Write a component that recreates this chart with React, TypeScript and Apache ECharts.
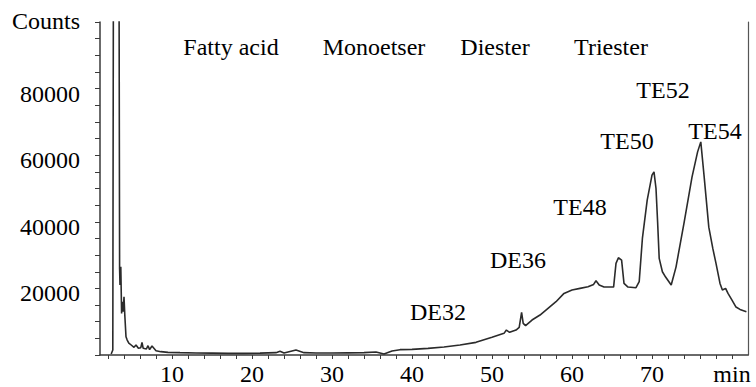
import React, { useEffect, useRef } from "react";
import * as echarts from "echarts";

// Retention time (min) and detector counts
const times = [
  2.4, 2.6, 2.7, 3.35, 3.45, 3.5, 3.6, 3.7, 3.8, 3.9, 4.0, 4.1, 4.25, 4.4, 4.6, 4.9,
  5.25, 5.5, 5.8, 6.1, 6.25, 6.4, 6.8, 7.0, 7.2, 7.5, 8.0, 8.6, 9.5, 11, 13, 15, 17,
  19, 21, 23, 23.5, 24, 25.5, 26.5, 28, 30, 32, 34, 35.5, 36.5, 37.5, 38.5, 40, 42,
  44, 46, 48, 50, 51.5, 51.8, 52.2, 53, 53.4, 53.7, 53.9, 54.2, 55, 56, 57, 58, 59,
  60, 61, 62, 62.7, 63, 63.4, 64, 65.2, 65.5, 65.8, 66.2, 66.5, 67, 68, 68.4, 68.8,
  69.4, 70.0, 70.25, 70.5, 70.7, 70.9, 71.3, 71.7, 72.4, 73.0, 74.0, 75.0, 75.7,
  76.1, 76.5, 77.1, 77.6, 78.0, 78.5, 78.8, 79.2, 79.5, 80.0, 80.5, 81.0, 81.8,
];
const counts = [
  300, 1500, 150000, 150000, 26000, 21000, 26500, 12500, 16000, 13000, 17500, 12000,
  5500, 4500, 3600, 3000, 2300, 3000, 2000, 2200, 3800, 2000, 1800, 2800, 1600,
  2700, 1300, 1000, 800, 700, 600, 550, 500, 500, 550, 700, 1100, 600, 1500, 700,
  600, 600, 650, 700, 900, 300, 1200, 1600, 1700, 2000, 2400, 3000, 3800, 5300,
  6500, 7500, 6800, 7500, 8300, 12800, 9500, 8800, 10500, 12000, 14000, 16000,
  18500, 19500, 20000, 20500, 21200, 22300, 21000, 20400, 20400, 27500, 29200,
  28500, 21500, 20400, 20200, 22000, 35000, 46500, 54000, 55000, 50000, 40000,
  29000, 25000, 23400, 21000, 26400, 39600, 53400, 61000, 64000, 54000, 38400,
  32000, 27500, 21500, 19500, 20000, 18500, 16500, 14400, 13700, 13000,
];

const xTickValues = [
  2, 4, 6, 8, 10, 12, 14, 16, 18, 20, 22, 24, 26, 28, 30, 32, 34, 36, 38, 40, 42,
  44, 46, 48, 50, 52, 54, 56, 58, 60, 62, 64, 66, 68, 70, 72, 74, 76, 78, 80,
];
const xLabelValues = [10, 20, 30, 40, 50, 60, 70, 80];
const xUnit = "min";
const yName = "Counts";
const regionLabels = ["Fatty acid", "Monoetser", "Diester", "Triester"];
const peakLabels = ["TE52", "TE50", "TE54", "TE48", "DE36", "DE32"];

const FONT = "Liberation Serif";

export default function App() {
  const ref = useRef<HTMLDivElement>(null);

  useEffect(() => {
    if (!ref.current) return;
    document.body.style.margin = "0";
    const chart = echarts.init(ref.current, null, { renderer: "svg" });
    const data = times.map((t, i) => [t, counts[i]]);

    const regionPos = [
      [231, 47],
      [374, 47],
      [495, 47],
      [611, 47],
    ];
    const peakPos = [
      [663, 90],
      [627, 141],
      [715, 131],
      [580, 207],
      [518, 260],
      [438, 312],
    ];
    const textStyle = { fontSize: 24, fontFamily: FONT, fill: "#000" };
    const graphics: any[] = [];
    regionLabels.forEach((t, i) =>
      graphics.push({
        type: "text",
        x: regionPos[i][0],
        y: regionPos[i][1],
        style: { ...textStyle, text: t, align: "center", verticalAlign: "middle" },
      })
    );
    peakLabels.forEach((t, i) =>
      graphics.push({
        type: "text",
        x: peakPos[i][0],
        y: peakPos[i][1],
        style: { ...textStyle, text: t, align: "center", verticalAlign: "middle" },
      })
    );
    graphics.push({
      type: "text",
      x: 80,
      y: 21,
      style: { ...textStyle, text: yName, align: "right", verticalAlign: "middle" },
    });

    const axisColor = "#3a3a3a";

    chart.setOption({
      animation: false,
      backgroundColor: "#fff",
      grid: { left: 100, top: 22, right: 8, bottom: 32, outerBoundsMode: "none", containLabel: false },
      xAxis: {
        type: "value",
        min: 1,
        max: 82,
        axisLine: { show: true, onZero: false, lineStyle: { color: axisColor, width: 1.5 } },
        axisTick: {
          show: true,
          length: 4,
          customValues: xTickValues,
          lineStyle: { color: axisColor, width: 1 },
        },
        axisLabel: {
          customValues: xLabelValues,
          margin: 11,
          lineHeight: 16,
          fontSize: 24,
          fontFamily: FONT,
          color: "#000",
          formatter: (v: number) => (v === 80 ? xUnit : String(v)),
        },
        splitLine: { show: false },
      },
      yAxis: [
        {
          type: "value",
          min: 0,
          max: 100000,
          interval: 20000,
          axisLine: { show: true, lineStyle: { color: axisColor, width: 1.5 } },
          axisTick: { show: true, length: 5, lineStyle: { color: axisColor } },
          minorTick: { show: true, splitNumber: 4, length: 5, lineStyle: { color: axisColor } },
          axisLabel: {
            margin: 20,
            fontSize: 24,
            fontFamily: FONT,
            color: "#000",
            verticalAlign: "top",
            lineHeight: 10,
            formatter: (v: number) => (v === 0 || v === 100000 ? "" : String(v)),
          },
          splitLine: { show: false },
        },
        {
          type: "value",
          position: "right",
          min: 0,
          max: 100000,
          axisLine: { show: true, lineStyle: { color: "#555", width: 1.2 } },
          axisTick: { show: false },
          axisLabel: { show: false },
          splitLine: { show: false },
        },
      ],
      series: [
        {
          type: "line",
          data,
          showSymbol: false,
          clip: true,
          lineStyle: { color: "#2b2b2b", width: 1.6 },
        },
      ],
      graphic: graphics,
    });

    return () => chart.dispose();
  }, []);

  return (
    <div
      ref={ref}
      style={{ position: "absolute", left: 0, top: 0, width: 756, height: 387 }}
    />
  );
}
